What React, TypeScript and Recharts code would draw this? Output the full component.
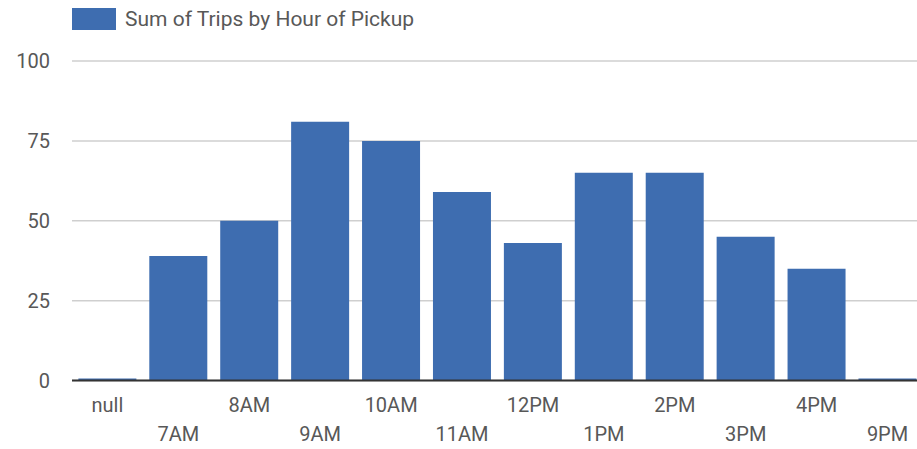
import React from "react";
import {
  BarChart,
  Bar,
  XAxis,
  YAxis,
  CartesianGrid,
  Legend,
} from "recharts";

const hours = ["null", "7AM", "8AM", "9AM", "10AM", "11AM", "12PM", "1PM", "2PM", "3PM", "4PM", "9PM"];
const trips = [0.6, 39, 50, 81, 75, 59, 43, 65, 65, 45, 35, 0.6];
const yTicks = [0, 25, 50, 75, 100];

const seriesName = "Sum of Trips by Hour of Pickup";
const barColor = "#3e6db0";
const textColor = "#585858";
const font = "Roboto, 'Noto Sans', sans-serif";

const data = hours.map((h, i) => ({ hour: h, trips: trips[i] }));

// labels alternate between two rows, like the original
const StaggeredTick = (props: any) => {
  const { x, y, payload, index } = props;
  const dy = index % 2 === 0 ? 31 : 60;
  return (
    <text
      x={x}
      y={y + dy}
      textAnchor="middle"
      fill={textColor}
      fontSize={20}
      fontFamily={font}
    >
      {payload.value}
    </text>
  );
};

const LegendBox = () => (
  <div style={{ height: 24, display: "flex", alignItems: "flex-start", paddingLeft: 64 }}>
    <div style={{ width: 44, height: 22, background: barColor }} />
    <span
      style={{
        marginLeft: 9,
        fontSize: 21,
        lineHeight: "22px",
        color: textColor,
        fontFamily: font,
      }}
    >
      {seriesName}
    </span>
  </div>
);

export default function App() {
  return (
    <div
      style={{
        position: "absolute",
        left: 8,
        top: 8,
        width: 909,
        height: 441,
        overflow: "hidden",
        background: "#fff",
      }}
    >
      <BarChart
        width={920}
        height={441}
        data={data}
        margin={{ top: 29, right: 5, bottom: 0, left: 0 }}
        barCategoryGap="9%"
      >
        <Legend
          verticalAlign="top"
          align="left"
          content={<LegendBox />}
          wrapperStyle={{ top: 0, left: 0, width: "auto" }}
        />
        <CartesianGrid vertical={false} stroke="#cfcfcf" strokeWidth={1.5} />
        <XAxis
          dataKey="hour"
          interval={0}
          height={68.5}
          tickSize={0}
          tickMargin={0}
          tickLine={false}
          axisLine={{ stroke: "#333", strokeWidth: 2 }}
          tick={<StaggeredTick />}
        />
        <YAxis
          width={64}
          domain={[0, 100]}
          ticks={yTicks}
          axisLine={false}
          tickLine={false}
          tickSize={0}
          tickMargin={22}
          tick={{ fill: textColor, fontSize: 20, fontFamily: font }}
        />
        <Bar dataKey="trips" name={seriesName} fill={barColor} isAnimationActive={false} />
      </BarChart>
    </div>
  );
}
